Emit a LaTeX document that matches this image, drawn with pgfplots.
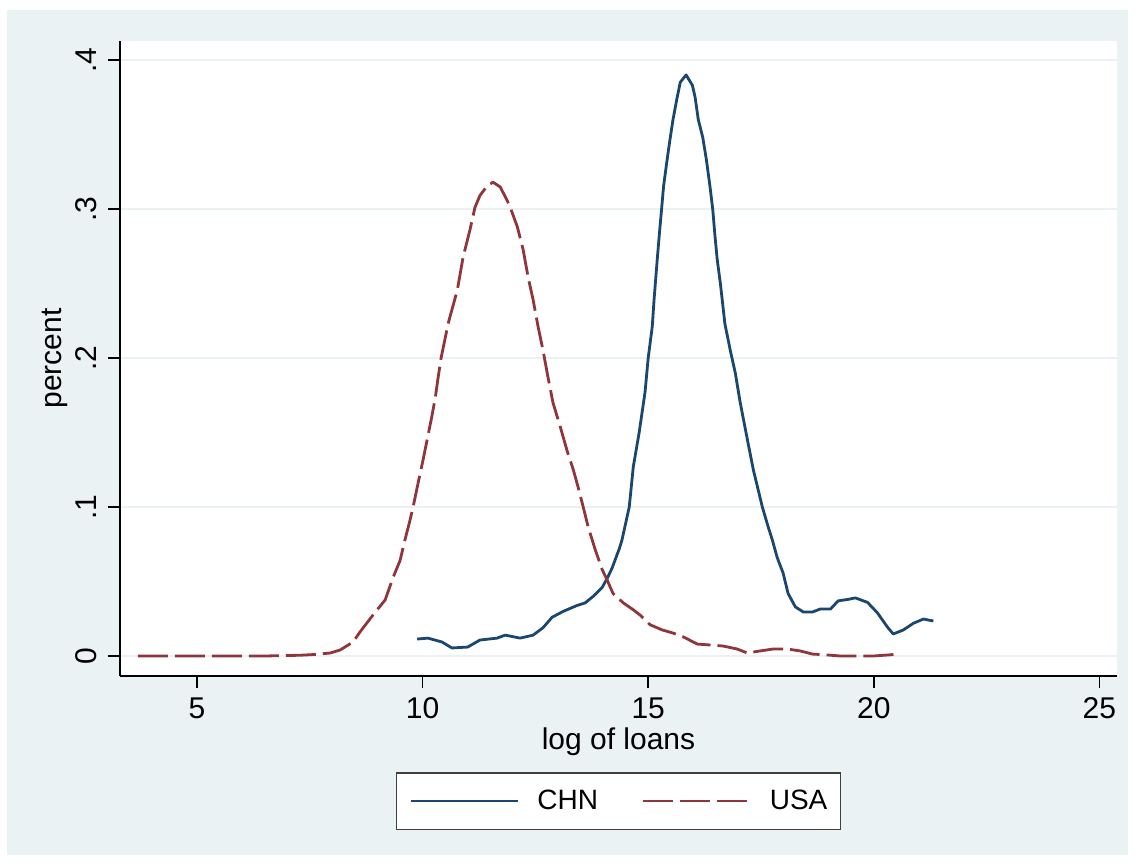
\documentclass[border=0pt]{standalone}
\usepackage{pgfplots}
\pgfplotsset{compat=1.18}
\usepackage{fontspec}
\setmainfont{Liberation Sans}
\definecolor{bgc}{RGB}{234,242,243}
\definecolor{gridc}{RGB}{234,241,243}
\definecolor{stnavy}{RGB}{26,71,111}
\definecolor{stmaroon}{RGB}{144,53,59}

\pgfplotstableread{
x y
9.88 0.0114
10.12 0.012
10.43 0.0094
10.65 0.0054
11.0 0.006
11.27 0.0107
11.65 0.012
11.83 0.014
12.16 0.012
12.45 0.014
12.67 0.019
12.87 0.026
13.12 0.030
13.43 0.034
13.6 0.0356
13.78 0.040
13.98 0.046
14.09 0.052
14.2 0.059
14.31 0.068
14.36 0.072
14.42 0.078
14.58 0.100
14.67 0.127
14.8 0.150
14.93 0.177
15.0 0.200
15.09 0.221
15.13 0.239
15.2 0.266
15.25 0.284
15.30 0.301
15.34 0.315
15.41 0.331
15.48 0.346
15.55 0.360
15.63 0.373
15.71 0.385
15.84 0.390
15.98 0.383
16.04 0.375
16.11 0.360
16.21 0.348
16.29 0.333
16.37 0.315
16.43 0.300
16.48 0.282
16.53 0.266
16.6 0.250
16.7 0.223
16.82 0.205
16.93 0.190
17.04 0.170
17.2 0.145
17.33 0.125
17.53 0.100
17.66 0.0866
17.75 0.078
17.86 0.066
17.99 0.0557
18.1 0.042
18.26 0.033
18.44 0.0295
18.64 0.0295
18.81 0.0315
19.04 0.0315
19.21 0.037
19.43 0.038
19.59 0.039
19.86 0.036
20.08 0.029
20.3 0.0195
20.43 0.0148
20.65 0.0174
20.88 0.022
21.1 0.0248
21.32 0.0235
}\chn

\pgfplotstableread{
x y
3.69 0
4.5 0
5.5 0
6.5 0
7.28 0.0005
7.6 0.001
7.95 0.002
8.17 0.004
8.46 0.0094
8.61 0.016
8.9 0.0275
9.17 0.0376
9.35 0.053
9.5 0.064
9.61 0.078
9.72 0.091
9.79 0.100
9.9 0.116
10.01 0.1315
10.1 0.145
10.2 0.160
10.28 0.173
10.34 0.186
10.41 0.200
10.57 0.2235
10.77 0.2456
10.9 0.268
11.05 0.286
11.16 0.301
11.27 0.309
11.43 0.3154
11.56 0.318
11.72 0.3148
11.87 0.306
11.98 0.298
12.1 0.288
12.23 0.2725
12.34 0.254
12.45 0.239
12.56 0.221
12.67 0.205
12.78 0.187
12.89 0.170
13.05 0.154
13.2 0.138
13.34 0.125
13.45 0.113
13.56 0.100
13.67 0.0866
13.83 0.071
13.98 0.058
14.09 0.051
14.22 0.042
14.45 0.0356
14.67 0.031
14.82 0.0275
15.04 0.021
15.31 0.0175
15.55 0.0154
15.78 0.0128
16.09 0.008
16.37 0.0074
16.66 0.0067
16.97 0.0047
17.2 0.002
17.48 0.0034
17.77 0.0047
18.08 0.0047
18.37 0.0034
18.64 0.0013
18.97 0.0007
19.26 0
19.63 0
19.99 0
20.32 0.0007
20.54 0.0013
}\usa

\begin{document}
\begin{tikzpicture}[x=1pt,y=1pt]
\fill[white] (0,0) rectangle (568,431.5);
\fill[bgc] (3.5,4) rectangle (564,426.5);
\begin{axis}[
  at={(60pt,93.5pt)}, anchor=south west, scale only axis,
  width=498.5pt, height=317.5pt,
  xmin=3.294, xmax=25.39, ymin=-0.01342, ymax=0.41275,
  axis background/.style={fill=white},
  axis x line*=bottom, axis y line*=left,
  axis line style={line width=0.8pt, black},
  tick align=outside, major tick length=6pt,
  tick style={line width=0.7pt, black},
  xtick={5,10,15,20,25}, xticklabels={5,10,15,20,25},
  ytick={0,0.1,0.2,0.3,0.4}, yticklabels={0,.1,.2,.3,.4},
  ymajorgrids, grid style={line width=1pt, gridc},
  font=\fontsize{15}{18}\selectfont,
  xticklabel style={anchor=north, inner sep=4.5pt},
  yticklabel style={rotate=90, anchor=south, inner sep=5.5pt},
  xlabel={log of loans},
  ylabel={percent},
  xlabel style={at={(axis description cs:0.5,-0.1165)}, anchor=base},
  ylabel style={at={(axis description cs:-0.0582,0.5)}, anchor=base},
  legend columns=2,
  legend image code/.code={\draw[#1] (0pt,0pt) -- (53.5pt,0pt);},
  legend style={at={(axis description cs:0.5,-0.1512)}, anchor=north,
    draw=black!75, line width=0.75pt, fill=white,
    inner xsep=6.5pt, inner ysep=8.5pt,
    nodes={inner sep=0pt},
    column sep=0pt,
    /tikz/every odd column/.append style={column sep=9pt},
    /tikz/every even column/.append style={column sep=22pt},
    font=\fontsize{14}{17}\selectfont},
]
\addplot[stnavy, line width=1.4pt, line join=round] table[x=x,y=y] {\chn};
\addlegendentry{CHN}
\addplot[stmaroon, line width=1.4pt, line join=round, dash pattern=on 15pt off 3.5pt] table[x=x,y=y] {\usa};
\addlegendentry{USA}
\end{axis}
\end{tikzpicture}
\end{document}
